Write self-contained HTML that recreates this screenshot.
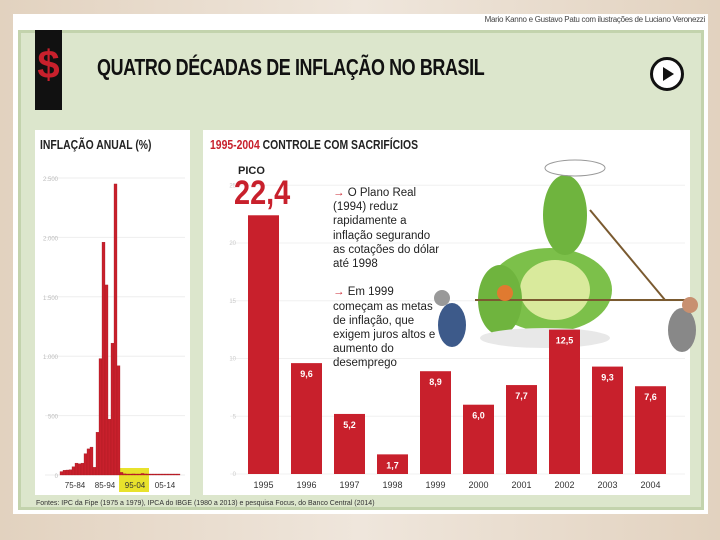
<!DOCTYPE html>
<html><head><meta charset="utf-8"><style>
body{margin:0;width:720px;height:540px;overflow:hidden;background:linear-gradient(90deg,#e2d2bf,#efe6dc 50%,#e2d2bf);font-family:"Liberation Sans",sans-serif}
.abs{position:absolute}
</style></head><body>
<div class="abs" style="left:13px;top:14px;width:695px;height:500px;background:#fff"></div>
<div class="abs" style="left:300px;top:15px;width:405px;text-align:right;font-size:8px;color:#444;letter-spacing:-0.3px">Mario Kanno e Gustavo Patu com ilustrações de Luciano Veronezzi</div>
<div class="abs" style="left:18px;top:30px;width:686px;height:480px;background:#dce6cc;border:3px solid #c3d3ad;box-sizing:border-box"></div>
<div class="abs" style="left:35px;top:30px;width:27px;height:80px;background:#111;color:#c8202c;font-size:40px;font-weight:bold;text-align:center;line-height:70px">$</div>
<div class="abs" style="left:97px;top:54px;font-size:23px;font-weight:bold;color:#111;transform:scaleX(0.78);transform-origin:left;letter-spacing:-0.5px;white-space:nowrap">QUATRO DÉCADAS DE INFLAÇÃO NO BRASIL</div>
<div class="abs" style="left:650px;top:57px;width:28px;height:28px;border:3px solid #111;border-radius:50%;background:#fff"><div style="position:absolute;left:10px;top:7px;border-left:11px solid #111;border-top:7px solid transparent;border-bottom:7px solid transparent"></div></div>
<div class="abs" style="left:35px;top:130px;width:155px;height:365px;background:#fff"></div>
<div class="abs" style="left:203px;top:130px;width:487px;height:365px;background:#fff"></div>
<div class="abs" style="left:40px;top:137px;font-size:13px;font-weight:bold;color:#222;transform:scaleX(0.8);transform-origin:left;white-space:nowrap">INFLAÇÃO ANUAL (%)</div>
<div class="abs" style="left:210px;top:137px;font-size:13px;font-weight:bold;color:#222;transform:scaleX(0.8);transform-origin:left;white-space:nowrap"><span style="color:#c8202c">1995-2004</span> CONTROLE COM SACRIFÍCIOS</div>
<div class="abs" style="left:36px;top:500px;font-size:7px;color:#333;white-space:nowrap">Fontes: IPC da Fipe (1975 a 1979), IPCA do IBGE (1980 a 2013) e pesquisa Focus, do Banco Central (2014)</div>
<svg class="abs" style="left:0;top:0" width="720" height="540" id="svg"></svg>
<div class="abs" style="left:238px;top:165px;font-size:11px;font-weight:bold;color:#222">PICO</div>
<div class="abs" style="left:234px;top:174px;font-size:34px;font-weight:bold;color:#c8202c;transform:scaleX(0.85);transform-origin:left">22,4</div>
<div class="abs" style="left:333px;top:186px;font-size:11.5px;line-height:14.2px;color:#222;width:110px"><span style="color:#c8202c">→</span> O Plano Real (1994) reduz rapidamente a inflação segurando as cotações do dólar até 1998<br><br><span style="color:#c8202c">→</span> Em 1999 começam as metas de inflação, que exigem juros altos e aumento do desemprego</div>
<script>
const leftYears=[1975,1976,1977,1978,1979,1980,1981,1982,1983,1984,1985,1986,1987,1988,1989,1990,1991,1992,1993,1994,1995,1996,1997,1998,1999,2000,2001,2002,2003,2004,2005,2006,2007,2008,2009,2010,2011,2012,2013,2014];
const leftValues=[29,40,42,45,70,100,95,100,180,220,235,65,360,980,1960,1600,470,1110,2450,920,22,10,5,2,9,6,8,13,9,8,6,3,4,6,4,6,7,6,6,6];
const leftTicks=[0,500,1000,1500,2000,2500];
const leftTickLabels=["0","500","1.000","1.500","2.000","2.500"];
const leftDecades=["75-84","85-94","95-04","05-14"];
const years=["1995","1996","1997","1998","1999","2000","2001","2002","2003","2004"];
const values=[22.4,9.6,5.2,1.7,8.9,6.0,7.7,12.5,9.3,7.6];
const valueLabels=["","9,6","5,2","1,7","8,9","6,0","7,7","12,5","9,3","7,6"];
const rightTicks=[0,5,10,15,20,25];
const NS="http://www.w3.org/2000/svg";
const svg=document.getElementById('svg');
function mk(t,a){const e=document.createElementNS(NS,t);for(const k in a)e.setAttribute(k,a[k]);svg.appendChild(e);return e;}
const lY=v=>475-v*297/2500, lX=i=>60+i*3.0;
leftTicks.forEach((t,i)=>{
  const g=mk('line',{x1:45,x2:185,y1:lY(t),y2:lY(t),stroke:'#eee','stroke-width':1});
  
  
  const tx=mk('text',{x:58,y:lY(t)+3,'font-size':6,fill:'#bbb','text-anchor':'end'});tx.textContent=leftTickLabels[i];
  
  
});
const hl=mk('rect',{x:lX(20)-1,y:lY(0)-7,width:30,height:24,fill:'#e8e22c'});


leftValues.forEach((v,i)=>{
  const h=Math.max(1,v*297/2500);
  const r=mk('rect',{x:lX(i),y:475-h,width:3.0,height:h,fill:'#c8202c',stroke:'#a01820','stroke-width':0.3});
  
  
});
leftDecades.forEach((d,i)=>{
  const t=mk('text',{x:lX(i*10+5),y:488,'font-size':8,fill:'#333','text-anchor':'middle'});t.textContent=d;
  
  
});
const rY=v=>474-v*11.55, rX=i=>248+i*43;
rightTicks.forEach(t=>{
  const g=mk('line',{x1:230,x2:685,y1:rY(t),y2:rY(t),stroke:'#f0f0f0','stroke-width':1});
  
  
  const tx=mk('text',{x:236,y:rY(t)+2,'font-size':6,fill:'#ccc','text-anchor':'end'});tx.textContent=t;
  
  
});
[['ellipse',{cx:550,cy:290,rx:62,ry:42,fill:'#7cc04a'}],['ellipse',{cx:555,cy:290,rx:35,ry:30,fill:'#d9ea9c'}],['ellipse',{cx:565,cy:215,rx:22,ry:40,fill:'#6fb43e'}],['ellipse',{cx:500,cy:300,rx:22,ry:35,fill:'#6fb43e'}],['ellipse',{cx:575,cy:168,rx:30,ry:8,fill:'none',stroke:'#999','stroke-width':1}],['ellipse',{cx:545,cy:338,rx:65,ry:10,fill:'#e8e8e8'}],['line',{x1:475,y1:300,x2:690,y2:300,stroke:'#7a5a30','stroke-width':2}],['line',{x1:590,y1:210,x2:665,y2:300,stroke:'#7a5a30','stroke-width':2}],['ellipse',{cx:452,cy:325,rx:14,ry:22,fill:'#3d5a8a'}],['circle',{cx:442,cy:298,r:8,fill:'#999'}],['ellipse',{cx:682,cy:330,rx:14,ry:22,fill:'#888'}],['circle',{cx:690,cy:305,r:8,fill:'#c89070'}],['circle',{cx:505,cy:293,r:8,fill:'#e07a30'}]].forEach(([t,a])=>{
  const e=mk(t,a);
  
  
});
values.forEach((v,i)=>{
  const r=mk('rect',{x:rX(i),y:rY(v),width:31,height:v*11.55,fill:'#c8202c'});
  
  
  if(valueLabels[i]){
    const t=mk('text',{x:rX(i)+15.5,y:rY(v)+14,'font-size':9,fill:'#fff','text-anchor':'middle','font-weight':'bold'});t.textContent=valueLabels[i];
    
    
  }
  const y=mk('text',{x:rX(i)+15.5,y:488,'font-size':9,fill:'#333','text-anchor':'middle'});y.textContent=years[i];
  
  
});
</script>
</body></html>
